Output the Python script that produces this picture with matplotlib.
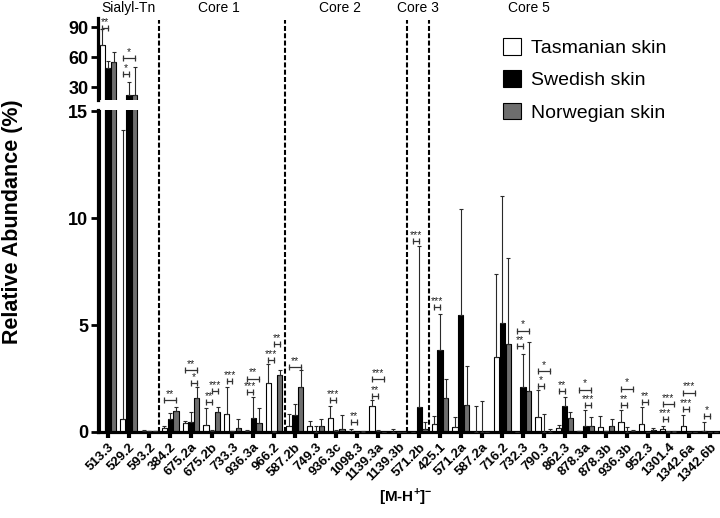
import matplotlib
matplotlib.use('Agg')
import matplotlib.pyplot as plt
from matplotlib.patches import Patch
from matplotlib.lines import Line2D
from matplotlib.transforms import blended_transform_factory

plt.rcParams['font.family'] = ['Liberation Sans', 'DejaVu Sans']
plt.rcParams['mathtext.fontset'] = 'custom'
plt.rcParams['mathtext.rm'] = 'Liberation Sans'
plt.rcParams['mathtext.bf'] = 'Liberation Sans:bold'

categories = ['513.3', '529.2', '593.2', '384.2', '675.2a', '675.2b', '733.3', '936.3a',
              '966.2', '587.2b', '749.3', '936.3c', '1098.3', '1139.3a', '1139.3b',
              '571.2b', '425.1', '571.2a', '587.2a', '716.2', '732.3', '790.3', '862.3',
              '878.3a', '878.3b', '936.3b', '952.3', '1301.4', '1342.6a', '1342.6b']

tasmanian = [72, 0.6, 0.05, 0.2, 0.4, 0.35, 0.82, 0.05, 2.27, 0.3, 0.28, 0.64, 0.04, 1.2, 0.01,
             0.0, 0.37, 0.25, 0.0, 3.5, 0.0, 0.68, 0.17, 0.03, 0.22, 0.48, 0.36, 0.16, 0.28, 0.03]
tasmanian_sd = [16, 13.5, 0.05, 0.1, 0.1, 0.75, 1.28, 0.05, 0.89, 0.54, 0.22, 0.58, 0.11, 0.3, 0.14,
                0.0, 0.37, 0.43, 1.21, 3.88, 0.0, 1.27, 0.18, 0.02, 0.52, 0.57, 0.79, 0.14, 0.51, 0.42]

swedish = [49, 22.4, 0.03, 0.6, 0.48, 0.05, 0.03, 0.65, 0.02, 0.8, 0.02, 0.05, 0.01, 0.05, 0.01,
           1.15, 3.85, 5.49, 0.0, 5.08, 2.08, 0.02, 1.21, 0.3, 0.03, 0.02, 0.0, 0.02, 0.0, 0.0]
swedish_sd = [7.7, 12.6, 0.02, 0.3, 0.47, 0.05, 0.02, 0.99, 0.03, 0.53, 0.28, 0.05, 0.01, 0.03, 0.01,
              7.55, 1.65, 4.91, 1.44, 5.97, 1.58, 0.82, 0.43, 0.72, 0.02, 0.23, 0.0, 0.01, 0.0, 0.0]

norwegian = [55.7, 21.7, 0.03, 1.0, 1.57, 0.95, 0.2, 0.4, 2.65, 2.08, 0.3, 0.15, 0.02, 0.01, 0.01,
             0.14, 1.57, 1.25, 0.0, 4.09, 1.92, 0.01, 0.64, 0.3, 0.3, 0.05, 0.1, 0.02, 0.0, 0.0]
norwegian_sd = [9.3, 29.0, 0.02, 0.15, 0.51, 0.2, 0.4, 0.7, 0.23, 0.8, 0.3, 0.65, 0.03, 0.01, 0.01,
                0.34, 0.9, 1.82, 0.0, 4.03, 2.28, 0.14, 0.31, 0.41, 0.3, 0.05, 0.1, 0.01, 0.0, 0.0]

series_labels = ['Tasmanian skin', 'Swedish skin', 'Norwegian skin']
series_colors = ['white', 'black', '#6e6e6e']

section_labels = ['Sialyl-Tn', 'Core 1', 'Core 2', 'Core 3', 'Core 5']
section_label_pos = [1.0, 5.35, 11.2, 14.94, 20.3]
section_dividers = [2.45, 8.55, 14.42, 15.47]

# significance: (category index, bar from, bar to, y, label, panel)
significance = [
    (0, 0, 1, 89.5, '**', 'hi'),
    (1, 0, 2, 59.0, '*', 'hi'),
    (1, 0, 1, 43.4, '*', 'hi'),
    (3, 0, 2, 1.5, '**', 'lo'),
    (4, 0, 2, 2.9, '**', 'lo'),
    (4, 1, 2, 2.27, '*', 'lo'),
    (5, 0, 1, 1.4, '**', 'lo'),
    (5, 1, 2, 1.9, '***', 'lo'),
    (6, 0, 1, 2.37, '***', 'lo'),
    (7, 0, 2, 2.5, '**', 'lo'),
    (7, 0, 1, 1.87, '***', 'lo'),
    (8, 0, 1, 3.35, '***', 'lo'),
    (8, 1, 2, 4.1, '**', 'lo'),
    (9, 0, 2, 3.04, '**', 'lo'),
    (11, 0, 1, 1.5, '***', 'lo'),
    (12, 0, 1, 0.45, '**', 'lo'),
    (13, 0, 1, 1.67, '**', 'lo'),
    (13, 0, 2, 2.46, '***', 'lo'),
    (15, 0, 1, 8.93, '***', 'lo'),
    (16, 0, 1, 5.83, '***', 'lo'),
    (20, 0, 2, 4.74, '*', 'lo'),
    (20, 0, 1, 4.0, '**', 'lo'),
    (21, 0, 2, 2.85, '*', 'lo'),
    (21, 0, 1, 2.14, '*', 'lo'),
    (22, 0, 1, 1.92, '**', 'lo'),
    (23, 0, 2, 1.98, '*', 'lo'),
    (23, 1, 2, 1.26, '***', 'lo'),
    (25, 0, 1, 1.26, '**', 'lo'),
    (25, 0, 2, 2.03, '*', 'lo'),
    (26, 0, 1, 1.41, '**', 'lo'),
    (27, 0, 1, 0.59, '***', 'lo'),
    (27, 0, 2, 1.3, '***', 'lo'),
    (28, 0, 1, 1.07, '***', 'lo'),
    (28, 0, 2, 1.84, '***', 'lo'),
    (29, 0, 1, 0.74, '*', 'lo'),
]

W, H = 720, 518
fig = plt.figure(figsize=(W / 100, H / 100), dpi=100)
left = 98 / W
right = 1.0
ax_lo = fig.add_axes([left, 1 - 432 / H, right - left, (432 - 110) / H])
ax_hi = fig.add_axes([left, 1 - 100 / H, right - left, (100 - 18) / H])

x = list(range(len(categories)))
offsets = [-0.28, 0.0, 0.28]
bw = 0.25
means = [tasmanian, swedish, norwegian]
sds = [tasmanian_sd, swedish_sd, norwegian_sd]

for ax in (ax_lo, ax_hi):
    for k in range(3):
        xs = [xi + offsets[k] for xi in x]
        ax.bar(xs, means[k], width=bw, color=series_colors[k], edgecolor='black',
               linewidth=0.8, zorder=2)
        ax.errorbar(xs, means[k], yerr=[[0] * len(x), sds[k]], fmt='none',
                    ecolor='#2a2a2a', elinewidth=0.8, capsize=1.2, capthick=0.8, zorder=3)
    ax.set_xlim(-0.48, 29.49)
    for s in ('top', 'right'):
        ax.spines[s].set_visible(False)
    ax.spines['left'].set_linewidth(2.3)
    ax.spines['bottom'].set_linewidth(2.3)
    ax.tick_params(axis='y', length=5, width=2, labelsize=13, pad=2)

ax_lo.set_ylim(0, 15.05)
ax_lo.set_yticks([0, 5, 10, 15])
ax_lo.set_yticklabels(['0', '5', '10', '15'], fontweight='bold', fontsize=13)
ax_lo.set_xticks(x)
ax_lo.set_xticklabels(categories, rotation=45, ha='right', va='top',
                      rotation_mode='anchor', fontweight='bold', fontsize=9.5)
ax_lo.tick_params(axis='x', length=4.5, width=3, pad=2)

ax_hi.set_ylim(17, 99.5)
ax_hi.set_yticks([30, 60, 90])
ax_hi.set_yticklabels(['30', '60', '90'], fontweight='bold', fontsize=13)
ax_hi.spines['bottom'].set_visible(False)
ax_hi.set_xticks([])

# significance brackets
for ci, b0, b1, yv, lab, panel in significance:
    ax = ax_hi if panel == 'hi' else ax_lo
    x0 = ci + offsets[b0]
    x1 = ci + offsets[b1]
    ax.plot([x0, x1], [yv, yv], color='#333333', lw=0.9, marker='|', ms=4.5, mew=0.9,
            zorder=4, clip_on=False)
    ax.annotate(lab, xy=((x0 + x1) / 2, yv), xytext=(0, 0.8), textcoords='offset points',
                ha='center', va='bottom', fontsize=7.5, color='#222222', annotation_clip=False)

# dividers spanning both panels
tr = blended_transform_factory(ax_lo.transData, fig.transFigure)
for d in section_dividers:
    fig.add_artist(Line2D([d, d], [1 - 432 / H, 1 - 20 / H], transform=tr, color='black',
                          lw=1.5, dashes=(2.4, 1.1)))
for lab, pos in zip(section_labels, section_label_pos):
    fig.text(pos, 1 - 8 / H, lab, transform=tr, ha='center', va='center', fontsize=10)

# legend
handles = [Patch(facecolor=c, edgecolor='black', linewidth=0.8) for c in series_colors]
fig.legend(handles, series_labels, loc='upper left', bbox_to_anchor=(503 / W, 1 - 38 / H),
           frameon=False, fontsize=14, handlelength=0.95, handleheight=0.95,
           handletextpad=0.5, labelspacing=0.68, borderpad=0, borderaxespad=0)

fig.text(13 / W, 1 - 222 / H, 'Relative Abundance (%)', rotation=90, ha='center', va='center',
         fontsize=15.5, fontweight='bold')
fig.text(406 / W, 1 - 497 / H, r'[M-H$^{\mathbf{+}}$]$^{\mathbf{-}}$', ha='center', va='center',
         fontsize=11, fontweight='bold')

fig.savefig('out.png', dpi=100)
